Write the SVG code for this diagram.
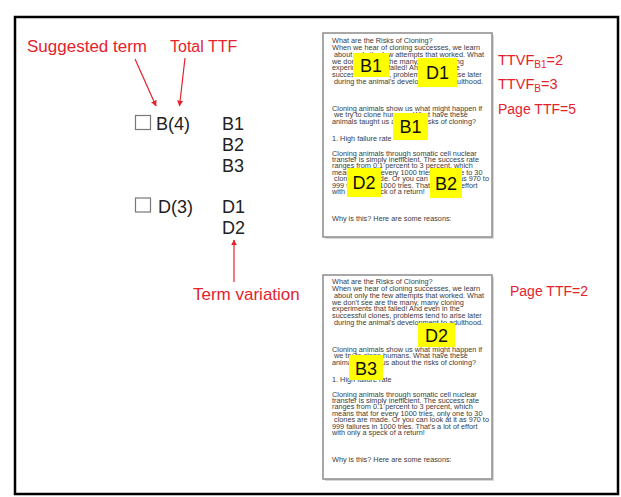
<svg xmlns="http://www.w3.org/2000/svg" xmlns:xlink="http://www.w3.org/1999/xlink" width="621" height="497" viewBox="0 0 621 497">
  <style>
    .red { fill: #e5222c; font-family: "Liberation Sans", Arial, sans-serif; }
    .term { fill: #222; font-family: "Liberation Sans", Arial, sans-serif; font-size: 18px; }
    .page { fill: #fff; stroke: #8c8c8c; stroke-width: 1.5; }
    .shadow { fill: #d8d8d8; }
    .doc { fill: #3c3c3c; font-family: "Liberation Sans", Arial, sans-serif; font-size: 7.3px; }
    .tag { fill: #ffff00; }
    .tagtxt { fill: #111; font-family: "Liberation Sans", Arial, sans-serif; font-size: 18px; text-anchor: middle; }
    .box { fill: none; stroke: #777; stroke-width: 1.2; }
    .arrow { stroke: #e5222c; stroke-width: 1.2; fill: none; marker-end: url(#head); }
  </style>
  <defs>
    <marker id="head" viewBox="0 0 10 10" refX="9" refY="5" markerWidth="6" markerHeight="6" orient="auto" markerUnits="userSpaceOnUse">
      <path d="M0,0 L10,5 L0,10 z" fill="#e5222c"/>
    </marker>
    <clipPath id="pageclip">
      <rect x="324" y="34" width="167" height="202"/>
    </clipPath>
    <!-- article text shared by both page thumbnails -->
    <g id="pagetext" class="doc" clip-path="url(#pageclip)">
      <text x="332" y="43">What are the Risks of Cloning?</text>
      <text x="332" y="50">When we hear of cloning successes, we learn</text>
      <text x="334" y="57">about only the few attempts that worked. What</text>
      <text x="332" y="63.5">we don't see are the many, many cloning</text>
      <text x="332" y="70">experiments that failed! And even in the</text>
      <text x="332" y="77">successful clones, problems tend to arise later</text>
      <text x="334" y="84">during the animal's development to adulthood.</text>
      <text x="332" y="110.5">Cloning animals show us what might happen if</text>
      <text x="334" y="117">we try to clone humans. What have these</text>
      <text x="332" y="124">animals taught us about the risks of cloning?</text>
      <text x="332" y="141">1. High failure rate</text>
      <text x="332" y="155.5">Cloning animals through somatic cell nuclear</text>
      <text x="332" y="162">transfer is simply inefficient. The success rate</text>
      <text x="332" y="168">ranges from 0.1 percent to 3 percent, which</text>
      <text x="332" y="174.5">means that for every 1000 tries, only one to 30</text>
      <text x="334" y="181">clones are made. Or you can look at it as 970 to</text>
      <text x="332" y="187.5">999 failures in 1000 tries. That's a lot of effort</text>
      <text x="332" y="194">with only a speck of a return!</text>
      <text x="332" y="221">Why is this? Here are some reasons:</text>
    </g>
  </defs>

  <rect x="0" y="0" width="621" height="497" fill="#fff"/>
  <!-- outer frame -->
  <rect x="15" y="17" width="603" height="477" fill="none" stroke="#000" stroke-width="2.5"/>

  <!-- callout labels -->
  <g id="label-suggested">
    <text class="red" x="27" y="52" font-size="17">Suggested term</text>
  </g>
  <g id="label-total">
    <text class="red" x="170" y="52" font-size="16">Total TTF</text>
  </g>
  <g id="label-variation">
    <text class="red" x="193" y="300" font-size="17">Term variation</text>
  </g>

  <!-- term list -->
  <g id="term-b">
    <rect class="box" x="135.5" y="115.5" width="15" height="14"/>
    <text class="term" x="156" y="130">B(4)</text>
    <text class="term" x="222" y="130">B1</text>
    <text class="term" x="222" y="151">B2</text>
    <text class="term" x="222" y="172">B3</text>
  </g>
  <g id="term-d">
    <rect class="box" x="135.5" y="198" width="15" height="14"/>
    <text class="term" x="158" y="213">D(3)</text>
    <text class="term" x="222" y="213">D1</text>
    <text class="term" x="222" y="234">D2</text>
  </g>

  <!-- page 1 -->
  <g id="page-1">
    <rect class="shadow" x="325" y="35" width="169" height="204"/>
    <rect class="page" x="323" y="33" width="169" height="204"/>
    <use xlink:href="#pagetext"/>
    <rect class="tag" x="353" y="53" width="36" height="24"/>
    <text class="tagtxt" x="371" y="72">B1</text>
    <rect class="tag" x="418" y="58" width="39" height="29"/>
    <text class="tagtxt" x="437.5" y="79">D1</text>
    <rect class="tag" x="393" y="113" width="35" height="27"/>
    <text class="tagtxt" x="410.5" y="133">B1</text>
    <rect class="tag" x="347" y="168" width="34" height="29"/>
    <text class="tagtxt" x="364" y="189">D2</text>
    <rect class="tag" x="430" y="168" width="32" height="30"/>
    <text class="tagtxt" x="446" y="189.5">B2</text>
  </g>
  <g id="page-1-stats">
    <text class="red" x="498" y="65" font-size="14.5">TTVF<tspan font-size="10" dy="3">B1</tspan><tspan dy="-3">=2</tspan></text>
    <text class="red" x="498" y="89" font-size="14.5">TTVF<tspan font-size="10" dy="3">B</tspan><tspan dy="-3">=3</tspan></text>
    <text class="red" x="498" y="114" font-size="14">Page TTF=5</text>
  </g>

  <!-- page 2 -->
  <g id="page-2">
    <rect class="shadow" x="325" y="277" width="169" height="204"/>
    <rect class="page" x="323" y="275" width="169" height="204"/>
    <use xlink:href="#pagetext" transform="translate(0,241)"/>
    <rect class="tag" x="418" y="323" width="37" height="24"/>
    <text class="tagtxt" x="436.5" y="342">D2</text>
    <rect class="tag" x="349" y="355" width="34" height="25"/>
    <text class="tagtxt" x="366" y="375">B3</text>
  </g>
  <g id="page-2-stats">
    <text class="red" x="510" y="296" font-size="14">Page TTF=2</text>
  </g>

  <!-- connectors -->
  <g id="connectors">
    <line class="arrow" x1="135" y1="59" x2="156" y2="106"/>
    <line class="arrow" x1="185" y1="58" x2="179.5" y2="106"/>
    <line class="arrow" x1="234" y1="282" x2="234" y2="240"/>
  </g>
</svg>
